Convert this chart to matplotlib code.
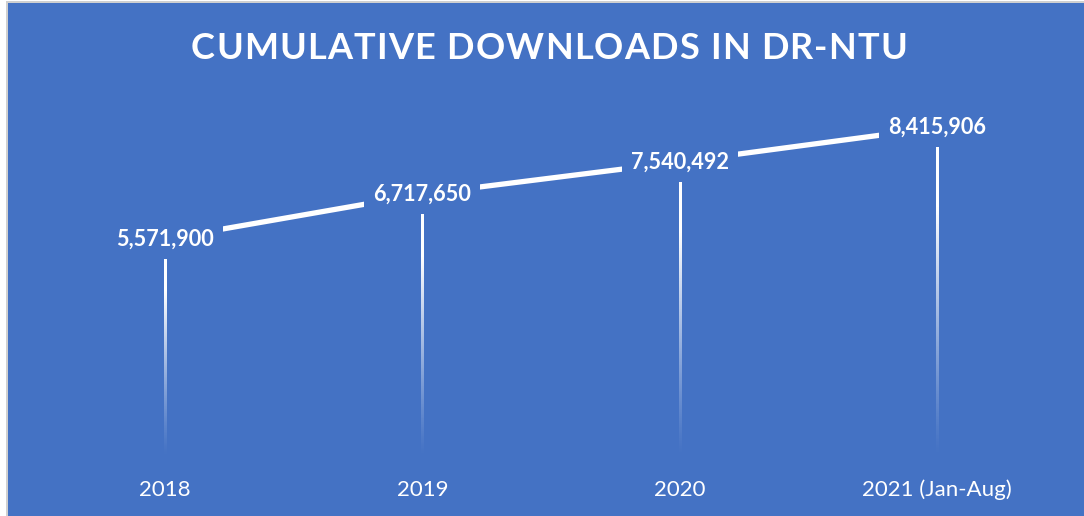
import matplotlib
matplotlib.use("Agg")
import matplotlib.pyplot as plt
import numpy as np
from matplotlib.patches import Rectangle

years = ["2018", "2019", "2020", "2021 (Jan-Aug)"]
downloads = [5571900, 6717650, 7540492, 8415906]
title = "CUMULATIVE DOWNLOADS IN DR-NTU"

blue = "#4472C4"
plt.rcParams["font.family"] = ["Lato", "DejaVu Sans"]

fig = plt.figure(figsize=(10.84, 5.16), dpi=100, facecolor="white")

# chart area with thin grey frame at top / left
fig.patches.append(Rectangle((6 / 1084, 0), 1, 1 - 1 / 516, transform=fig.transFigure,
                             facecolor="#D0D0D0", edgecolor="none", zorder=-10))
fig.patches.append(Rectangle((8 / 1084, 0), 1, 1 - 3 / 516, transform=fig.transFigure,
                             facecolor=blue, edgecolor="none", zorder=-9))

ax = fig.add_axes([0.0335, 0.1134, 0.9497, 0.6837])
ax.set_zorder(1)
ax.set_facecolor("none")
x = np.arange(len(years))
xlim = (-0.5, len(years) - 0.5)
ylim = (0, 9000000)
for s in ax.spines.values():
    s.set_visible(False)
ax.set_yticks([])

# drop lines fading towards the axis (gradient image, ~2px wide)
half_w = (xlim[1] - xlim[0]) / (0.9497 * 1084) * 1.1
grad = np.zeros((200, 1, 4))
grad[..., :3] = 1.0
fade = np.linspace(1, 0, 200)  # top row -> bottom row
grad[:, 0, 3] = np.clip(fade ** 1.2 * 1.4, 0, 1)
for xi, v in zip(x, downloads):
    ax.imshow(grad, extent=(xi - half_w, xi + half_w, 0, v), aspect="auto",
              interpolation="bilinear", zorder=1)

ax.plot(x, downloads, color="white", lw=3.8, solid_capstyle="butt", zorder=2)

for xi, v in zip(x, downloads):
    ax.text(xi, v, f"{v:,}", ha="center", va="center", color="white",
            fontsize=15.6, fontweight="bold", zorder=3,
            bbox=dict(boxstyle="square,pad=0.42", facecolor=blue, edgecolor="none"))

ax.set_xlim(*xlim)
ax.set_ylim(*ylim)
ax.set_xticks(x)
ax.set_xticklabels(years, color="white", fontsize=16)
ax.tick_params(axis="x", length=0, pad=16)

# letter-spaced title
fig.canvas.draw()
r = fig.canvas.get_renderer()
chars = []
for c in title:
    t = fig.text(0, 0, c, color="white", fontsize=26, fontweight="bold",
                 ha="left", va="baseline", zorder=5)
    chars.append(t)
widths = [t.get_window_extent(r).width for t in chars]
total = 716
gap = (total - sum(widths)) / (len(chars) - 1)
px = 549 - total / 2
for t, w in zip(chars, widths):
    t.set_position((px / 1084, 1 - 59 / 516))
    px += w + gap

fig.savefig("out.png", dpi=100, facecolor="white")
